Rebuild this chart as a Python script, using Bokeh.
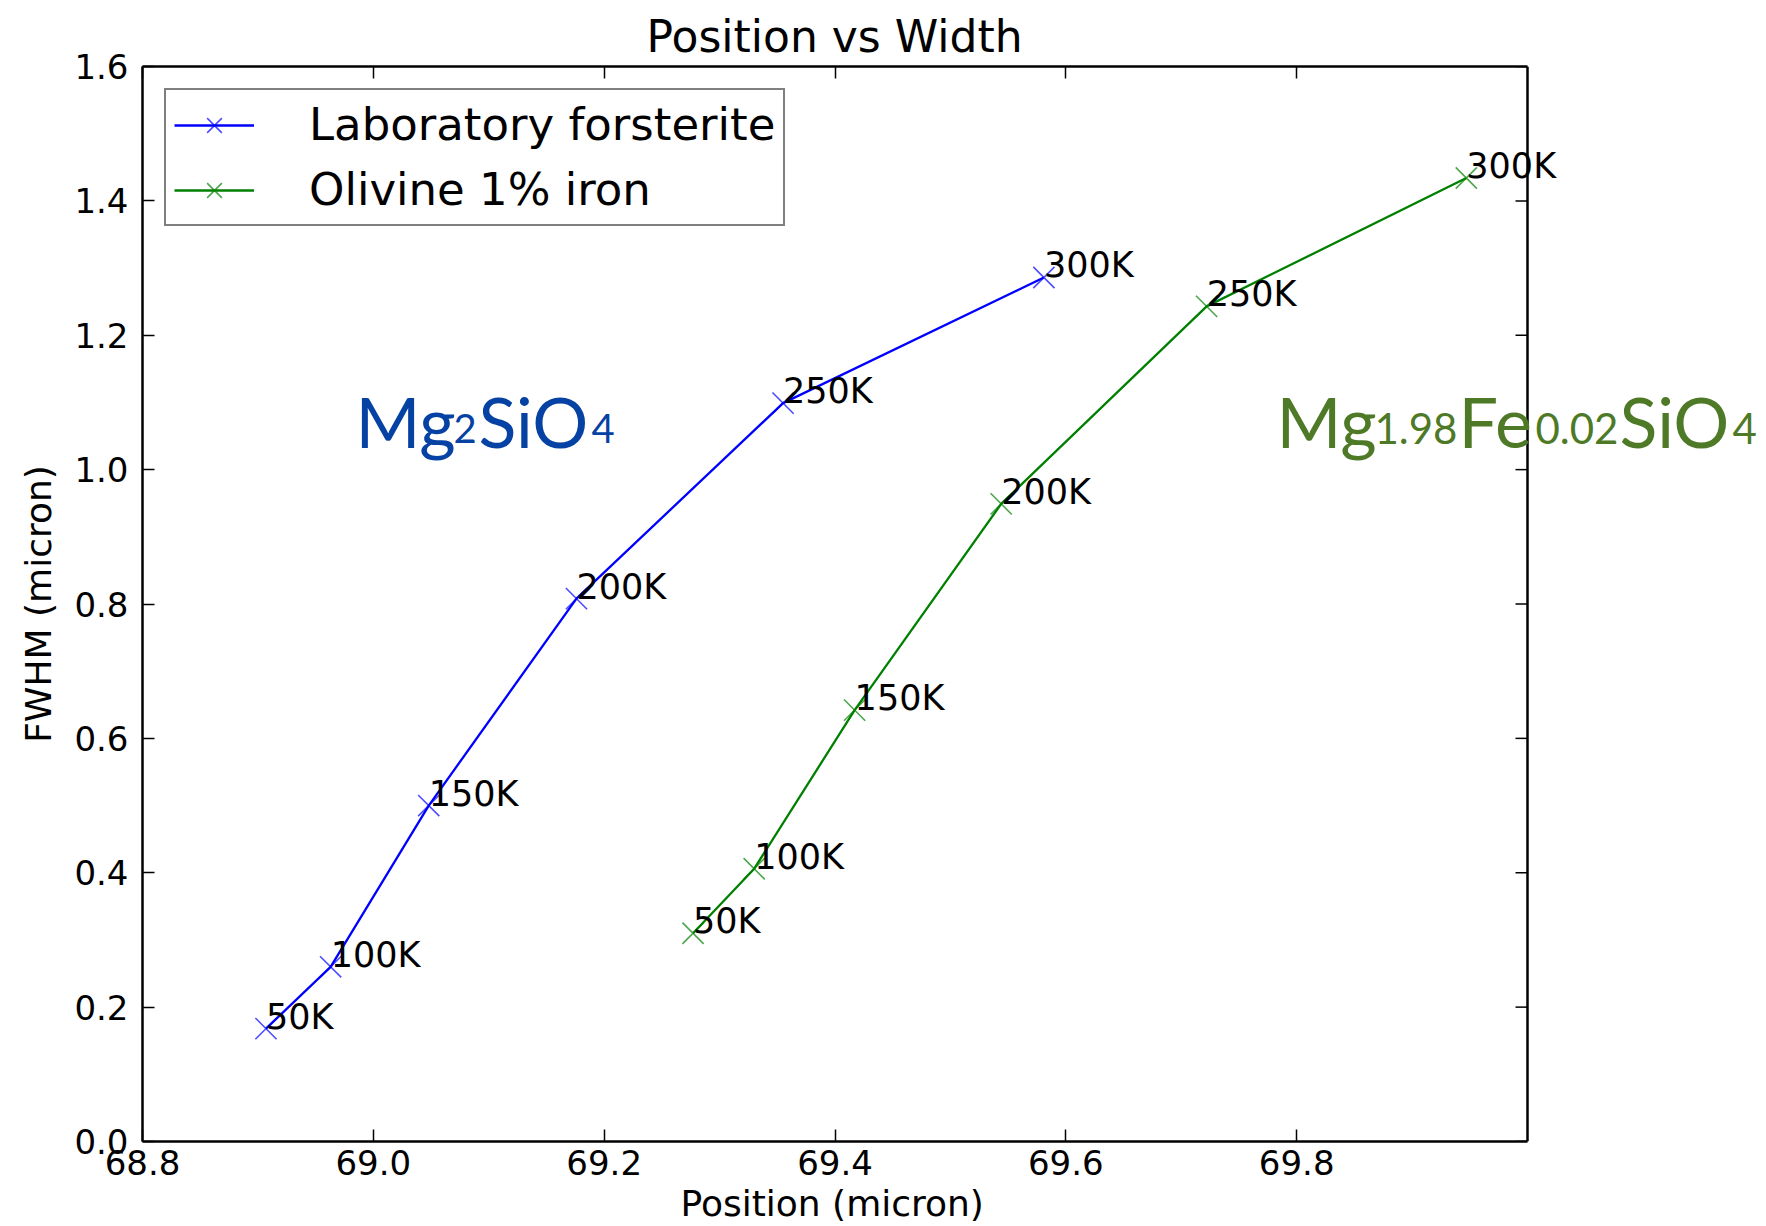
import numpy as np
from bokeh.plotting import figure
from bokeh.models import (Range1d, FixedTicker, LinearAxis, Legend, LegendItem, Label, Title,
                          LabelSet, ColumnDataSource, CustomJSTickFormatter, PrintfTickFormatter, Span)
from bokeh.core.properties import value
from bokeh.embed import file_html
from bokeh.resources import INLINE

# ---- data ----
temps = ["50K", "100K", "150K", "200K", "250K", "300K"]
forst_pos = [68.907, 68.963, 69.048, 69.176, 69.355, 69.581]
forst_fwhm = [0.168, 0.260, 0.500, 0.808, 1.099, 1.286]
oliv_pos = [69.277, 69.330, 69.417, 69.544, 69.722, 69.947]
oliv_fwhm = [0.310, 0.406, 0.642, 0.949, 1.243, 1.434]
series_names = ["Laboratory forsterite", "Olivine 1% iron"]
x_ticks = [68.8, 69.0, 69.2, 69.4, 69.6, 69.8]
y_ticks = [0.0, 0.2, 0.4, 0.6, 0.8, 1.0, 1.2, 1.4, 1.6]
x_lim = [68.8, 70.0]
y_lim = [0.0, 1.6]
formula_x = [68.9845, 69.7825]
formula_y = [1.072, 1.072]

FONT = "DejaVu Sans"
W, H = 1766, 1226
LEFT, RIGHT_AXIS = 142, 1527   # frame left edge and the drawn right edge (px)

# The plotting frame extends to the canvas edge so texts that overflow the right
# axis (as in the original) are not clipped; the right edge of the box is drawn.
x_end = x_lim[0] + (x_lim[1] - x_lim[0]) * (W - LEFT) / (RIGHT_AXIS - LEFT)

p = figure(width=W, height=H, x_range=Range1d(x_lim[0], x_end), y_range=Range1d(*y_lim),
           output_backend="svg", toolbar_location=None, title="Position vs Width",
           min_border_left=LEFT, min_border_right=0, min_border_top=66, min_border_bottom=85)
p.background_fill_color = "white"
p.border_fill_color = "white"
p.xgrid.visible = False
p.ygrid.visible = False
p.outline_line_color = None

p.title.text_font = FONT
p.title.text_font_size = "44px"
p.title.text_font_style = "normal"
p.title.align = "left"
p.title.offset = 504
p.title.text_color = "black"

def style_axis(ax):
    ax.major_tick_in = 12
    ax.major_tick_out = 0
    ax.minor_tick_line_color = None
    ax.major_tick_line_color = "black"
    ax.major_tick_line_width = 1.5
    ax.axis_line_color = "black"
    ax.axis_line_width = 2.5
    ax.major_label_text_font = FONT
    ax.major_label_text_font_size = "34px"
    ax.major_label_text_color = "black"
    ax.axis_label_text_font = FONT
    ax.axis_label_text_font_size = "36px"
    ax.axis_label_text_font_style = "normal"
    ax.axis_label_text_color = "black"

xa = p.xaxis[0]
ya = p.yaxis[0]
style_axis(xa)
style_axis(ya)
xa.bounds = (x_lim[0], x_lim[1])
xa.ticker = FixedTicker(ticks=x_ticks)
ya.ticker = FixedTicker(ticks=y_ticks)
xa.formatter = PrintfTickFormatter(format="%.1f")
ya.formatter = PrintfTickFormatter(format="%.1f")
ya.axis_label = "FWHM (micron)"
xa.major_label_standoff = 8
ya.major_label_standoff = 14
ya.axis_label_standoff = 12

# x axis label as a below-title so that it is centred on the axes box
xlab = Title(text="Position (micron)", align="left", offset=538, text_font=FONT,
             text_font_size="36px", text_font_style="normal", text_color="black", standoff=6)
p.add_layout(xlab, "below")

ta = LinearAxis(ticker=FixedTicker(ticks=x_ticks), formatter=CustomJSTickFormatter(code="return ''"))
style_axis(ta)
ta.bounds = (x_lim[0], x_lim[1])
ta.major_label_text_font_size = "1px"
ta.major_label_standoff = 0
p.add_layout(ta, "above")

# right edge of the axes box with inward ticks
p.add_layout(Span(location=x_lim[1], dimension="height", line_color="black", line_width=2.5))
p.ray(x=[x_lim[1]] * len(y_ticks), y=y_ticks, length=12, length_units="screen", angle=np.pi,
      line_color="black", line_width=1.5)

src_f = ColumnDataSource(dict(x=forst_pos, y=forst_fwhm, t=temps))
src_o = ColumnDataSource(dict(x=oliv_pos, y=oliv_fwhm, t=temps))

colors = ["#0000FF", "#008000"]
items = []
for src, col, name in ((src_f, colors[0], series_names[0]), (src_o, colors[1], series_names[1])):
    rl = p.line("x", "y", source=src, line_color=col, line_width=2.3)
    rs = p.scatter("x", "y", source=src, marker="x", size=30, line_color=col,
                   line_width=1.6, line_alpha=0.7)
    items.append(LegendItem(label=name, renderers=[rl, rs]))
    labs = LabelSet(x="x", y="y", text="t", source=src, text_font=value(FONT),
                    text_font_size="35px", text_align="left", text_baseline="alphabetic",
                    text_color="black")
    p.add_layout(labs)

leg = Legend(items=items, location="top_left")
leg.margin = 22
leg.padding = 8
leg.spacing = 12
leg.glyph_width = 80
leg.glyph_height = 52
leg.label_height = 52
leg.label_standoff = 55
leg.label_text_font = FONT
leg.label_text_font_size = "45px"
leg.label_text_color = "black"
leg.border_line_color = "black"
leg.border_line_width = 2.5
leg.background_fill_alpha = 1.0
p.add_layout(leg)

# chemical formula annotations: (text, x offset px, is subscript)
blue_parts = [("Mg", 0, False), ("2", 98, True), ("SiO", 123, False), ("4", 236, True)]
green_parts = [("Mg", 0, False), ("1.98", 98, True), ("Fe", 182, False),
               ("0.02", 259, True), ("SiO", 343, False), ("4", 456, True)]
for parts, fx, fy, col, subsize in ((blue_parts, formula_x[0], formula_y[0], "#0542A3", "40px"),
                                    (green_parts, formula_x[1], formula_y[1], "#4E7A27", "42px")):
    for txt, dx, sub in parts:
        p.add_layout(Label(x=fx, y=fy, x_offset=dx, y_offset=(-7 if sub else 0), text=txt,
                           text_font="Lato", text_font_size=(subsize if sub else "70px"),
                           text_color=col, text_align="left", text_baseline="alphabetic"))

open("out.html", "w").write(file_html(p, INLINE))
